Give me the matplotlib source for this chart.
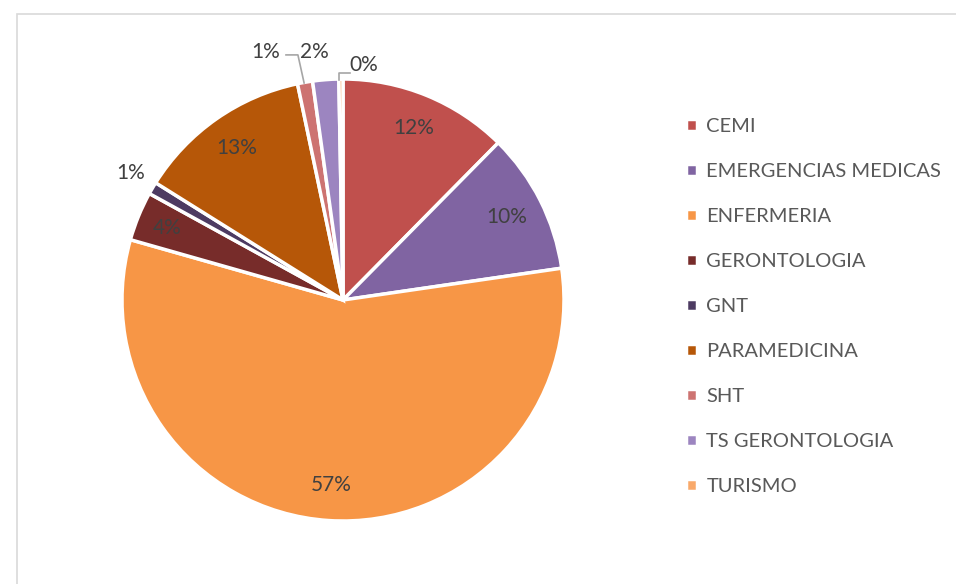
import numpy as np
import matplotlib.pyplot as plt
from matplotlib.patches import Rectangle

plt.rcParams['font.family'] = ['Lato', 'DejaVu Sans']

carreras = ['CEMI', 'EMERGENCIAS MEDICAS', 'ENFERMERIA', 'GERONTOLOGIA', 'GNT',
            'PARAMEDICINA', 'SHT', 'TS GERONTOLOGIA', 'TURISMO']
porcentajes = [12.4, 10.3, 56.7, 3.6, 0.9, 12.8, 1.1, 1.9, 0.3]
colores = ['#C0504D', '#8064A2', '#F79646', '#772C2A', '#4D3B62',
           '#B65708', '#CD7371', '#9C85C0', '#F9A96A']

W, H = 956, 584
fig = plt.figure(figsize=(W/100, H/100), dpi=100)

# chart frame
fig.patches.append(Rectangle((17/W, -0.1), 1.1, 1 - 14/H + 0.1, transform=fig.transFigure,
                             fill=False, edgecolor='#D9D9D9', linewidth=1.2))

cx, cy, r = 343, 300, 221
ax = fig.add_axes([(cx - r)/W, (H - cy - r)/H, 2*r/W, 2*r/H])

wedges, _ = ax.pie(porcentajes, colors=colores, startangle=90, counterclock=False,
                   radius=1, wedgeprops=dict(edgecolor='white', linewidth=2.5))
ax.set_xlim(-1, 1)
ax.set_ylim(-1, 1)
ax.set_aspect('equal')
ax.axis('off')

txt = '#404040'
total = sum(porcentajes)
# labels inside slices
dentro = {0: 0.84, 1: 0.83, 2: 0.84, 3: 0.86, 5: 0.84}
# labels outside slices (pie coords)
fuera = {4: (-0.96, 0.575), 6: (-0.35, 1.12), 7: (-0.13, 1.12), 8: (0.095, 1.063)}

for i, w in enumerate(wedges):
    etiqueta = '%d%%' % round(porcentajes[i] / total * 100)
    if i in dentro:
        ang = np.deg2rad((w.theta1 + w.theta2) / 2)
        d = dentro[i]
        ax.text(d*np.cos(ang), d*np.sin(ang), etiqueta, ha='center', va='center',
                fontsize=15, color=txt)
    else:
        x, y = fuera[i]
        ax.text(x, y, etiqueta, ha='center', va='center', fontsize=15, color=txt)

# leader lines
ax.plot([-0.176, -0.204, -0.258], [0.982, 1.109, 1.109], color='#A6A6A6', lw=1.2, clip_on=False)
ax.plot([-0.018, -0.018, 0.032], [0.995, 1.027, 1.027], color='#A6A6A6', lw=1.2, clip_on=False)

leg = fig.legend(wedges, carreras, loc='upper left', bbox_to_anchor=(668/W, 1 - 100/H),
                 frameon=False, fontsize=14.5, handlelength=0.55, handleheight=0.55,
                 handletextpad=0.45, labelspacing=1.39)
for t in leg.get_texts():
    t.set_color('#595959')

fig.savefig('out.png', dpi=100)
